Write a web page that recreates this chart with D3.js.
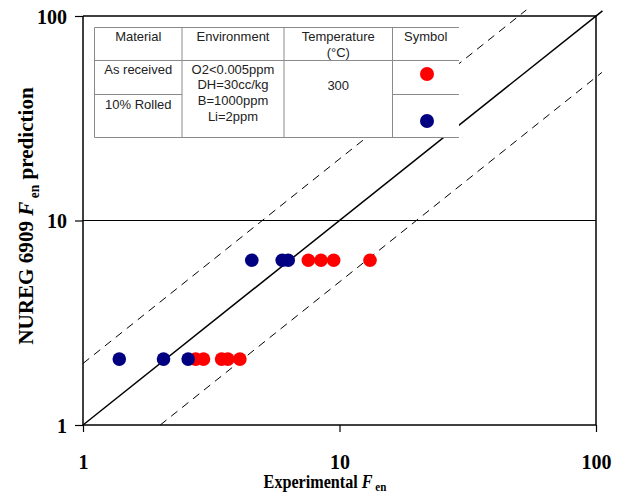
<!DOCTYPE html>
<html>
<head>
<meta charset="utf-8">
<script src="https://cdn.jsdelivr.net/npm/d3@7"></script>
<style>
  body { margin: 0; background: #fff; }
  svg { display: block; }
</style>
</head>
<body>
<div id="chart"></div>
<script>
// ---- data ----
var asReceivedX = [2.75, 2.95, 3.47, 3.67, 4.09, 7.56, 8.47, 9.49, 13.15];
var asReceivedY = [2.1, 2.1, 2.1, 2.1, 2.1, 6.39, 6.39, 6.39, 6.39];
var rolledX = [1.385, 2.06, 2.57, 4.55, 5.98, 6.31];
var rolledY = [2.1, 2.1, 2.1, 6.39, 6.39, 6.39];
var tickValues = [1, 10, 100];
var tickLabels = ["1", "10", "100"];

// reference lines (ratio 1, 2, 1/2)
var lineOne = [[1, 1], [106, 106]];
var lineUpper = [[1, 2], [53.5, 107]];
var lineLower = [[2, 1], [105.5, 53]];

// legend table
var tableHeaders = [["Material"], ["Environment"], ["Temperature", "(\u00b0C)"], ["Symbol"]];
var materials = ["As received", "10% Rolled"];
var environment = ["O2<0.005ppm", "DH=30cc/kg", "B=1000ppm", "Li=2ppm"];
var temperature = "300";

var W = 625, H = 495;
var margin = { left: 83, right: 29, top: 16, bottom: 70 };
var colRed = "#ff0000", colBlue = "#000080";

var svg = d3.select("#chart").append("svg")
    .attr("width", W)
    .attr("height", H);

var x = d3.scaleLog().domain([1, 100]).range([margin.left, W - margin.right]);
var y = d3.scaleLog().domain([1, 100]).range([H - margin.bottom, margin.top]);

// gridline at 10
svg.append("line")
    .attr("x1", x(1)).attr("x2", x(100))
    .attr("y1", y(10)).attr("y2", y(10))
    .attr("stroke", "#000").attr("stroke-width", 1);

// frame (top & right)
svg.append("line")
    .attr("x1", x(1)).attr("x2", x(100))
    .attr("y1", y(100)).attr("y2", y(100))
    .attr("stroke", "#000").attr("stroke-width", 1.5);
svg.append("line")
    .attr("x1", x(100)).attr("x2", x(100))
    .attr("y1", y(100)).attr("y2", y(1))
    .attr("stroke", "#000").attr("stroke-width", 1.5);

// axes
var xAxis = d3.axisBottom(x).tickValues(tickValues).tickSize(7).tickFormat(function(d, i) { return tickLabels[i]; });
var yAxis = d3.axisLeft(y).tickValues(tickValues).tickSize(8).tickFormat(function(d, i) { return tickLabels[i]; });

var gx = svg.append("g")
    .attr("transform", "translate(0," + y(1) + ")")
    .call(xAxis);
var gy = svg.append("g")
    .attr("transform", "translate(" + x(1) + ",0)")
    .call(yAxis);

[gx, gy].forEach(function(g) {
    g.select(".domain").attr("stroke", "#000").attr("stroke-width", 1.5);
    g.selectAll(".tick line").attr("stroke", "#000").attr("stroke-width", 1.2);
    g.selectAll("text")
        .attr("fill", "#000")
        .style("font-family", "'Liberation Serif', 'Times New Roman', serif")
        .style("font-weight", "bold")
        .style("font-size", "20px");
});
gx.selectAll(".domain").attr("d", "M" + x(1) + ",0H" + x(100));
gy.selectAll(".domain").attr("d", "M0," + y(100) + "V" + y(1));
gx.selectAll("text").attr("y", 0).attr("dy", "44px");
gy.selectAll("text").attr("x", -16).attr("dy", "0.35em");

// reference lines
var line = d3.line()
    .x(function(d) { return x(d[0]); })
    .y(function(d) { return y(d[1]); });

svg.append("path").datum(lineOne)
    .attr("d", line).attr("fill", "none")
    .attr("stroke", "#000").attr("stroke-width", 1.5);
[lineUpper, lineLower].forEach(function(l) {
    svg.append("path").datum(l)
        .attr("d", line).attr("fill", "none")
        .attr("stroke", "#000").attr("stroke-width", 1)
        .attr("stroke-dasharray", "8,6");
});

// points: red first, blue on top
svg.append("g").selectAll("circle")
    .data(asReceivedX.map(function(v, i) { return [v, asReceivedY[i]]; }))
    .enter().append("circle")
    .attr("cx", function(d) { return x(d[0]); })
    .attr("cy", function(d) { return y(d[1]); })
    .attr("r", 6.8)
    .attr("fill", colRed);
svg.append("g").selectAll("circle")
    .data(rolledX.map(function(v, i) { return [v, rolledY[i]]; }))
    .enter().append("circle")
    .attr("cx", function(d) { return x(d[0]); })
    .attr("cy", function(d) { return y(d[1]); })
    .attr("r", 6.8)
    .attr("fill", colBlue);

// ---- legend table ----
var cols = [94.5, 182, 284, 392.5, 459];
var rowTop = 27.5, rowHead = 60.5, rowMid = 94.5, rowBot = 137.5;
var tbl = svg.append("g")
    .style("font-family", "'Liberation Sans', Arial, sans-serif")
    .style("font-size", "13px");

tbl.append("rect")
    .attr("x", cols[0]).attr("y", rowTop)
    .attr("width", cols[4] - cols[0]).attr("height", rowBot - rowTop)
    .attr("fill", "#fff");

var grey = "#8a8a8a";
function hline(x1, x2, yy) {
    tbl.append("line").attr("x1", x1).attr("x2", x2).attr("y1", yy).attr("y2", yy)
        .attr("stroke", grey).attr("stroke-width", 1);
}
function vline(xx, y1, y2) {
    tbl.append("line").attr("x1", xx).attr("x2", xx).attr("y1", y1).attr("y2", y2)
        .attr("stroke", grey).attr("stroke-width", 1);
}
hline(cols[0], cols[4], rowTop);
hline(cols[0], cols[4], rowHead);
hline(cols[0], cols[1], rowMid);
hline(cols[3], cols[4], rowMid);
hline(cols[0], cols[4], rowBot);
vline(cols[0], rowTop, rowBot);
vline(cols[1], rowTop, rowBot);
vline(cols[2], rowTop, rowBot);
vline(cols[3], rowTop, rowBot);

function cellText(cx, lines, cy0, step) {
    lines.forEach(function(t, i) {
        tbl.append("text")
            .attr("x", cx).attr("y", cy0 + i * step)
            .attr("dy", "0.35em")
            .attr("text-anchor", "middle")
            .attr("fill", "#222")
            .text(t);
    });
}
tableHeaders.forEach(function(h, i) {
    cellText((cols[i] + cols[i + 1]) / 2, h, 36, 16.5);
});
cellText((cols[0] + cols[1]) / 2, [materials[0]], 69, 0);
cellText((cols[0] + cols[1]) / 2, [materials[1]], 104, 0);
cellText((cols[1] + cols[2]) / 2, environment, 69, 15.7);
cellText((cols[2] + cols[3]) / 2, [temperature], 85, 0);

tbl.append("circle").attr("cx", 427).attr("cy", 74).attr("r", 7).attr("fill", colRed);
tbl.append("circle").attr("cx", 427).attr("cy", 121).attr("r", 7).attr("fill", colBlue);

// ---- axis titles ----
var serif = "'Liberation Serif', 'Times New Roman', serif";
var xt = svg.append("text")
    .attr("transform", "translate(325,488) scale(0.85,1)")
    .attr("text-anchor", "middle")
    .style("font-family", serif)
    .style("font-weight", "bold")
    .style("font-size", "19px")
    .attr("fill", "#000");
xt.append("tspan").text("Experimental ");
xt.append("tspan").style("font-style", "italic").text("F");
xt.append("tspan").attr("dy", 3).style("font-size", "13px").text(" en");

var yt = svg.append("text")
    .attr("transform", "translate(33,216) rotate(-90) scale(0.96,1)")
    .attr("text-anchor", "middle")
    .style("font-family", serif)
    .style("font-weight", "bold")
    .style("font-size", "22px")
    .attr("fill", "#000");
yt.append("tspan").text("NUREG 6909 ");
yt.append("tspan").style("font-style", "italic").text("F");
yt.append("tspan").attr("dy", 6).style("font-size", "14px").text(" en");
yt.append("tspan").attr("dy", -6).text(" prediction");
</script>
</body>
</html>
